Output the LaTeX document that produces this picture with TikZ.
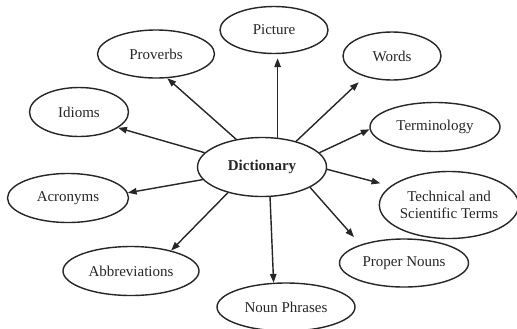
\documentclass[tikz,border=0pt]{standalone}
\usepackage{fontspec}
\setmainfont{Liberation Serif}
\usepackage{tikz}
\usetikzlibrary{arrows.meta,shapes.geometric,calc}
\definecolor{ink}{HTML}{262626}

\tikzset{
  bubble/.style={ellipse, draw=ink, line width=1.2pt, inner sep=0pt,
    font=\fontsize{12.8}{15}\selectfont, text=ink, align=center},
  link/.style={-{Triangle[length=7.5pt,width=5.5pt]}, draw=ink, line width=1.2pt},
}

\begin{document}
\begin{tikzpicture}[x=0.03cm, y=-0.03cm]
  \useasboundingbox[fill=white] (0,0) rectangle (517,328);

  % centre
  \node[bubble, minimum width=3.87cm, minimum height=1.77cm,
    font=\fontsize{12.8}{15}\selectfont\bfseries] (dict) at (262,167) {Dictionary};

  % ring of terms
  \node[bubble, minimum width=3.24cm, minimum height=1.41cm] (pic) at (274,30) {Picture};
  \node[bubble, minimum width=2.94cm, minimum height=1.44cm] (words) at (392,56) {Words};
  \node[bubble, minimum width=3.90cm, minimum height=1.47cm] (term) at (435,127) {Terminology};
  \node[bubble, minimum width=4.02cm, minimum height=2.01cm] (tech) at (449,205)
    {Technical and\\Scientific Terms};
  \node[bubble, minimum width=3.87cm, minimum height=1.44cm] (prop) at (404,263) {Proper Nouns};
  \node[bubble, minimum width=4.14cm, minimum height=1.44cm] (noun) at (286,307) {Noun Phrases};
  \node[bubble, minimum width=4.08cm, minimum height=1.47cm] (abbr) at (131,271) {Abbreviations};
  \node[bubble, minimum width=3.63cm, minimum height=1.47cm] (acro) at (68,198) {Acronyms};
  \node[bubble, minimum width=2.97cm, minimum height=1.47cm] (idio) at (79,112) {Idioms};
  \node[bubble, minimum width=3.51cm, minimum height=1.44cm] (prov) at (156,54) {Proverbs};

  % arrows out of the centre
  \draw[link, shorten >=3.5pt] (dict.62) -- (dict.62 |- pic.south);
  \draw[link, shorten >=7pt] (dict.37) -- (words.-143.5);
  \draw[link] (dict.14.5) -- (term.182);
  \draw[link, shorten >=9pt] (dict.-2.6) -- (tech.162);
  \draw[link, shorten >=8.5pt] (dict.-23.6) -- (prop.157);
  \draw[link] (dict.-75) -- (noun.117);
  \draw[link] (dict.-143.7) -- (abbr.27);
  \draw[link] (dict.-168) -- (acro.5);
  \draw[link] (dict.166) -- (idio.-22);
  \draw[link] (dict.133) -- (prov.-65);
\end{tikzpicture}
\end{document}
